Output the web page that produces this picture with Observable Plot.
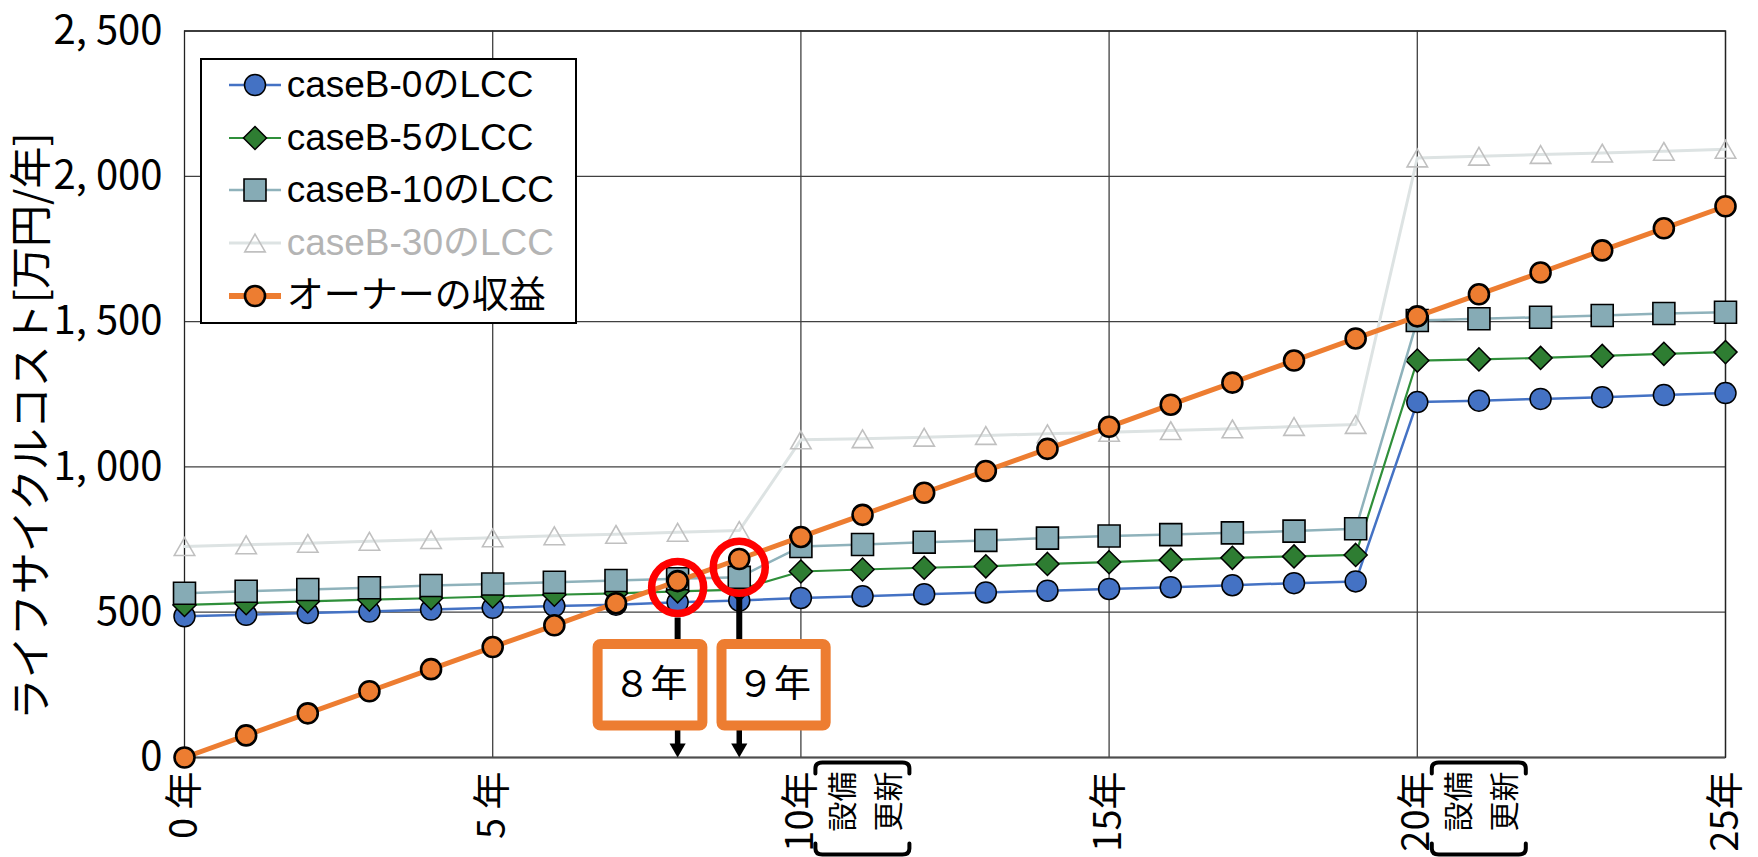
<!DOCTYPE html>
<html lang="ja">
<head>
<meta charset="utf-8">
<script src="https://cdn.jsdelivr.net/npm/d3@7"></script>
<script src="https://cdn.jsdelivr.net/npm/@observablehq/plot@0.6"></script>
<style>
  html, body { margin: 0; padding: 0; background: #fff; }
  #chart { position: relative; width: 1758px; height: 857px; overflow: hidden; }
  #chart svg.plot { position: absolute; left: 0; top: 0; }
  #legend {
    position: absolute; left: 200px; top: 58px; width: 377px; height: 266px;
    box-sizing: border-box; border: 2.3px solid #000; background: #fff;
    font-family: "Liberation Sans", Arial, "Noto Sans CJK JP", sans-serif; font-size: 37px;
  }
  #legend .row { position: absolute; left: 0; height: 40px; display: flex; align-items: center; white-space: nowrap; }
  #legend .row svg { position: absolute; left: 22.7px; top: 0; }
  #legend .row span { position: absolute; left: 84.7px; line-height: 40px; top: 0; }
</style>
</head>
<body>
<div id="chart"><div id="legend"></div></div>
<script>
// Years on the horizontal axis
const years = [0, 1, 2, 3, 4, 5, 6, 7, 8, 9, 10, 11, 12, 13, 14, 15, 16, 17, 18, 19, 20, 21, 22, 23, 24, 25];

// Life-cycle cost per case [万円/年]
const caseB0  = [486, 491, 497, 502, 509, 515, 521, 526, 534, 540, 549, 555, 562, 568, 574, 580, 586, 593, 600, 606, 1223, 1228, 1234, 1240, 1247, 1254];
const caseB5  = [525, 531, 537, 543, 548, 554, 560, 565, 572, 578, 640, 647, 653, 658, 666, 672, 680, 687, 692, 697, 1366, 1370, 1375, 1382, 1389, 1395];
const caseB10 = [565, 572, 578, 584, 592, 597, 603, 609, 615, 620, 726, 733, 741, 747, 755, 762, 767, 773, 779, 787, 1504, 1510, 1515, 1521, 1528, 1532];
const caseB30 = [726, 732, 737, 744, 750, 756, 763, 768, 775, 781, 1093, 1097, 1102, 1108, 1114, 1119, 1125, 1131, 1139, 1146, 2063, 2069, 2075, 2080, 2086, 2093];

// Owner's cumulative revenue [万円]
const ownerRevenue = [0, 76, 152, 228, 304, 380, 455, 531, 607, 683, 759, 835, 911, 986, 1062, 1138, 1214, 1290, 1366, 1442, 1518, 1594, 1669, 1745, 1821, 1897];

// Axis ticks and their labels
const xTicks = [0, 5, 10, 15, 20, 25];
const xTickLabels = ["0 年", "5 年", "10年", "15年", "20年", "25年"];
const yTicks = [0, 500, 1000, 1500, 2000, 2500];
const yTickLabels = ["0", "500", "1, 000", "1, 500", "2, 000", "2, 500"];
const yTitle = "ライフサイクルコスト[万円/年]";

// Equipment renewal years
const renewalYears = [10, 20];
const renewalLabel = "設備\n更新";

// Break-even markers: highlighted crossings and the year callouts
const crossings = [{year: 8, value: 585}, {year: 9, value: 655}];
const callouts = [
  {year: 8, label: "８年", x1: 6.71, x2: 8.41, from: 480},
  {year: 9, label: "９年", x1: 8.72, x2: 10.41, from: 554}
];

const series = [
  {name: "caseB-0のLCC", values: caseB0, line: "#4472c4", lineWidth: 2.5, symbol: "circle", r: 10.5, fill: "#4472c4", stroke: "#000", sw: 1.5, text: "#000"},
  {name: "caseB-5のLCC", values: caseB5, line: "#2f8f3a", lineWidth: 2.2, symbol: "diamond2", r: 10.4, fill: "#2e7d32", stroke: "#000", sw: 1.5, text: "#000"},
  {name: "caseB-10のLCC", values: caseB10, line: "#8fb2bb", lineWidth: 2.5, symbol: "square", r: 12.4, fill: "#86abb5", stroke: "#000", sw: 1.6, text: "#000"},
  {name: "caseB-30のLCC", values: caseB30, line: "#dde3e3", lineWidth: 3, symbol: "triangle", r: 7.6, fill: "none", stroke: "#c0c0c0", sw: 1.6, text: "#b4b4b4", dy: 3},
  {name: "オーナーの収益", values: ownerRevenue, line: "#ed7d31", lineWidth: 5, symbol: "circle", r: 10, fill: "#ed7d31", stroke: "#000", sw: 2.6, text: "#000"}
];

const rowsOf = (values) => years.map((year, i) => ({year, value: values[i]}));

const seriesMarks = series.flatMap((s) => {
  const rows = rowsOf(s.values);
  return [
    Plot.line(rows, {x: "year", y: "value", stroke: s.line, strokeWidth: s.lineWidth, curve: "linear"}),
    Plot.dot(rows, {x: "year", y: "value", symbol: s.symbol, r: s.r, fill: s.fill, stroke: s.stroke, strokeWidth: s.sw, dy: s.dy || 0})
  ];
});

const tickFont = "'Noto Sans CJK JP', 'Noto Sans', sans-serif";

const plot = Plot.plot({
  width: 1758,
  height: 857,
  marginLeft: 184,
  marginRight: 33,
  marginTop: 30.5,
  marginBottom: 100,
  style: {fontFamily: tickFont, background: "#fff", color: "#000", overflow: "visible"},
  x: {domain: [0, 25]},
  y: {domain: [0, 2500]},
  marks: [
    Plot.gridY(yTicks.slice(1), {stroke: "#404040", strokeOpacity: 1, strokeWidth: 1.3}),
    Plot.gridX(xTicks.slice(1), {stroke: "#404040", strokeOpacity: 1, strokeWidth: 1.3}),
    Plot.frame({stroke: "#222", strokeWidth: 1.3}),
    Plot.ruleY([0], {stroke: "#4d4d4d", strokeWidth: 2}),
    Plot.axisY(yTicks, {tickFormat: (d) => yTickLabels[yTicks.indexOf(d)], tickSize: 0, tickPadding: 22, fontSize: 40, label: null}),
    Plot.axisX(xTicks, {tickFormat: (d) => xTickLabels[xTicks.indexOf(d)], tickRotate: -90, tickSize: 0, tickPadding: 14, fontSize: 38, label: null}),
    Plot.text(renewalYears, {x: (d) => d, frameAnchor: "bottom", text: () => renewalLabel, rotate: -90, textAnchor: "end", lineAnchor: "middle", lineHeight: 1.53, dx: 60, dy: 14, fontSize: 30}),
    Plot.text([yTitle], {frameAnchor: "left", text: (d) => d, rotate: -90, textAnchor: "middle", lineAnchor: "middle", dx: -152, dy: 32, fontSize: 42}),
    ...seriesMarks,
    // connectors from the highlighted crossings down to the callouts
    Plot.ruleX(callouts, {x: "year", y1: "from", y2: 380, stroke: "#000", strokeWidth: 6}),
    Plot.ruleX(callouts, {x: "year", y1: 95, y2: 40, stroke: "#000", strokeWidth: 5.5}),
    Plot.dot(callouts, {x: "year", y: 32, symbol: "triangle", rotate: 180, r: 6, fill: "#000", stroke: "none"}),
    Plot.dot(crossings, {x: "year", y: "value", r: 26, fill: "none", stroke: "#ff0000", strokeWidth: 7.5}),
    Plot.rect(callouts, {x1: "x1", x2: "x2", y1: 108, y2: 389, fill: "#fff", stroke: "#ed7d31", strokeWidth: 10, rx: 3}),
    Plot.text(callouts, {x: (d) => (d.x1 + d.x2) / 2, y: 248, text: "label", fontSize: 37, fill: "#000"})
  ]
});

plot.classList.add("plot");

// Brackets around the renewal note under 10年 and 20年
const sx = plot.scale("x"), sy = plot.scale("y");
const y0 = sy.apply(0);
const svgSel = d3.select(plot);
for (const yr of renewalYears) {
  const a = sx.apply(yr) + 15, b = sx.apply(yr) + 109;
  const t = y0 + 5.5, u = y0 + 97.5;
  const top = `M${a},${t + 11}L${a},${t + 6}Q${a},${t} ${a + 7},${t}L${b - 7},${t}Q${b},${t} ${b},${t + 6}L${b},${t + 11}`;
  const bot = `M${a},${u - 11}L${a},${u - 6}Q${a},${u} ${a + 7},${u}L${b - 7},${u}Q${b},${u} ${b},${u - 6}L${b},${u - 11}`;
  svgSel.append("path").attr("d", top + bot).attr("fill", "none").attr("stroke", "#000").attr("stroke-width", 4).attr("stroke-linecap", "round");
}

const chart = document.getElementById("chart");
chart.insertBefore(plot, chart.firstChild);

// Legend
const symbolTypes = {circle: d3.symbolCircle, square: d3.symbolSquare, diamond2: d3.symbolDiamond2, triangle: d3.symbolTriangle};
const legend = d3.select("#legend");
series.forEach((s, i) => {
  const row = legend.append("div").attr("class", "row").style("top", `${24.7 + i * 52.8 - 20}px`);
  const svg = row.append("svg").attr("width", 60).attr("height", 40);
  svg.append("line").attr("x1", 4).attr("x2", 56).attr("y1", 20).attr("y2", 20)
    .attr("stroke", s.line).attr("stroke-width", s.lineWidth > 4 ? 6 : s.lineWidth);
  svg.append("path")
    .attr("d", d3.symbol(symbolTypes[s.symbol], Math.PI * s.r * s.r)())
    .attr("transform", `translate(30,${20 + (s.dy || 0)})`)
    .attr("fill", s.fill).attr("stroke", s.stroke).attr("stroke-width", s.sw);
  row.append("span").style("color", s.text).text(s.name);
});
</script>
</body>
</html>
